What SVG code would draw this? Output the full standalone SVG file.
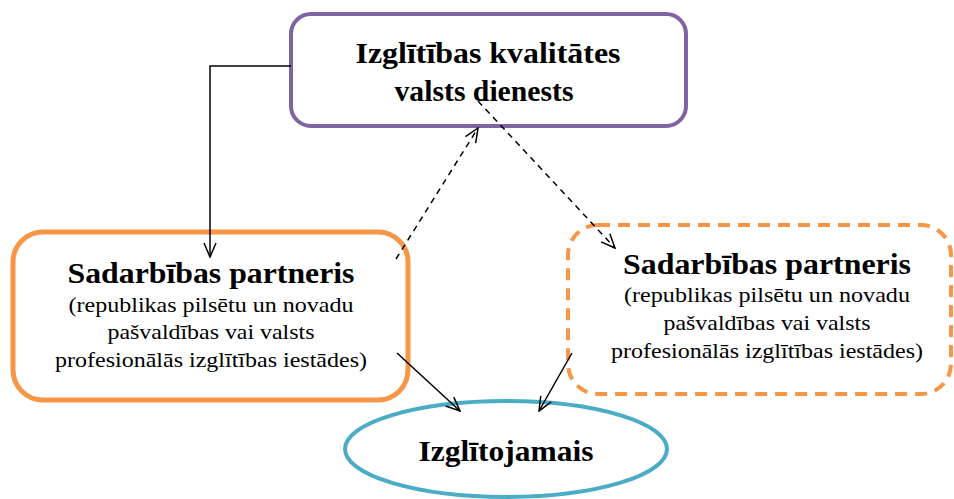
<svg xmlns="http://www.w3.org/2000/svg" width="954" height="499" viewBox="0 0 954 499">
<style>
.t{font-family:"Liberation Serif","Times New Roman","DejaVu Serif",serif;fill:#000;text-anchor:middle}
.b{font-weight:bold;font-size:29px}
.s{font-size:22px}
.c{stroke:#000;stroke-width:1.5;fill:none}
.d{stroke-dasharray:6 5}
</style>
<defs>
<marker id="ah" viewBox="0 0 16 14" refX="15" refY="7" markerWidth="16" markerHeight="14" markerUnits="userSpaceOnUse" orient="auto">
<path d="M1,1 L15,7 L1,13" fill="none" stroke="#000" stroke-width="1.5"/>
</marker>
</defs>
<g id="ikvd">
<rect x="291" y="14" width="395" height="112" rx="20" fill="#fff" stroke="#8064A2" stroke-width="4"/>
<text class="t b" x="488" y="63" textLength="265" lengthAdjust="spacingAndGlyphs">Izglītības kvalitātes</text>
<text class="t b" x="484" y="101" textLength="179" lengthAdjust="spacingAndGlyphs">valsts dienests</text>
</g>
<g id="partner1">
<rect x="13" y="232" width="395" height="168" rx="30" fill="#fff" stroke="#F79646" stroke-width="5"/>
<text class="t b" x="211" y="283" textLength="287" lengthAdjust="spacingAndGlyphs">Sadarbības partneris</text>
<text class="t s" x="211" y="312" textLength="285" lengthAdjust="spacingAndGlyphs">(republikas pilsētu un novadu</text>
<text class="t s" x="211" y="339" textLength="207" lengthAdjust="spacingAndGlyphs">pašvaldības vai valsts</text>
<text class="t s" x="211" y="367" textLength="312" lengthAdjust="spacingAndGlyphs">profesionālās izglītības iestādes)</text>
</g>
<g id="partner2">
<rect x="568" y="225" width="383" height="169" rx="30" fill="#fff" stroke="#F79646" stroke-width="4" stroke-dasharray="12 8"/>
<text class="t b" x="767" y="274" textLength="288" lengthAdjust="spacingAndGlyphs">Sadarbības partneris</text>
<text class="t s" x="767" y="302" textLength="286" lengthAdjust="spacingAndGlyphs">(republikas pilsētu un novadu</text>
<text class="t s" x="767" y="330" textLength="207" lengthAdjust="spacingAndGlyphs">pašvaldības vai valsts</text>
<text class="t s" x="767" y="358" textLength="312" lengthAdjust="spacingAndGlyphs">profesionālās izglītības iestādes)</text>
</g>
<g id="learner">
<ellipse cx="506" cy="449" rx="161" ry="48" fill="#fff" stroke="#4BACC6" stroke-width="4"/>
<text class="t b" x="506" y="461" textLength="175" lengthAdjust="spacingAndGlyphs">Izglītojamais</text>
</g>
<g id="connectors">
<path class="c" d="M291,66 L210,66 L210,257" marker-end="url(#ah)"/>
<path class="c d" d="M396,259 L478,128" marker-end="url(#ah)"/>
<path class="c d" d="M478,101 L615,248" marker-end="url(#ah)"/>
<path class="c" d="M397,353 L460,411" marker-end="url(#ah)"/>
<path class="c" d="M572,353 L539,411" marker-end="url(#ah)"/>
</g>
</svg>
